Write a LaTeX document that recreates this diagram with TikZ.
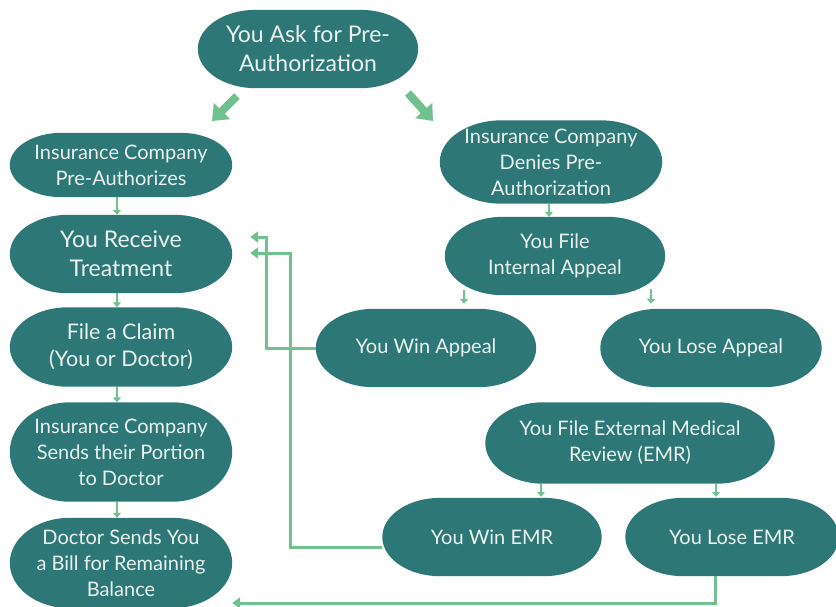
\documentclass[tikz,border=0pt]{standalone}
\usepackage{fontspec}
\setmainfont{Lato}
\usetikzlibrary{arrows.meta,calc,backgrounds}
\definecolor{tealBox}{HTML}{2D7877}
\definecolor{greenLine}{HTML}{6FC18F}
\definecolor{boxText}{HTML}{EAF2F0}

\begin{document}
\begin{tikzpicture}[
    x=1pt, y=-1pt,
    every node/.append style={font=\fontsize{20}{26}\selectfont},
    stage/.style={rectangle, text=boxText, minimum width=222pt, minimum height=78pt, inner sep=0pt, align=center,
        append after command={\pgfextra{\begin{pgfonlayer}{background}
            \fill[tealBox] let \p1=(\tikzlastnode.north), \p2=(\tikzlastnode.south), \n1={(\y1-\y2)/2} in
                ([xshift=#1]\tikzlastnode.north west) -- ([xshift=-#1]\tikzlastnode.north east)
                arc[start angle=90, end angle=-90, x radius=#1, y radius=\n1]
                -- ([xshift=#1]\tikzlastnode.south west)
                arc[start angle=270, end angle=90, x radius=#1, y radius=\n1] -- cycle;
        \end{pgfonlayer}}}},
    stage/.default=58pt,
    bigFont/.style={font=\fontsize{23}{29}\selectfont},
    bigArrow/.style={draw=greenLine, line width=8pt, -{Triangle[length=14pt,width=22pt]}},
    stepArrow/.style={draw=greenLine, line width=2pt, -{Triangle[length=5pt,width=8pt]}},
    backArrow/.style={draw=greenLine, line width=3pt, -{Triangle[length=8pt,width=11pt]}}
]
    \useasboundingbox (0,0) rectangle (836,606);

    % Anfrage
    \node[stage, bigFont, minimum width=220pt] (askPre) at (308,49) {You Ask for Pre-\\Authorization};

    % Linke Spalte
    \node[stage=52pt, minimum height=64pt] (insPre) at (121,165) {Insurance Company\\Pre-Authorizes};
    \node[stage, bigFont] (receive) at (121,254) {You Receive\\Treatment};
    \node[stage, minimum height=79pt, font=\fontsize{21.5}{27}\selectfont] (claim) at (121,347) {File a Claim\\(You or Doctor)};
    \node[stage=60pt, minimum height=99pt] (sends) at (121,452) {Insurance Company\\Sends their Portion\\to Doctor};
    \node[stage=60pt, minimum height=90pt] (bill) at (121,563) {Doctor Sends You\\a Bill for Remaining\\Balance};

    % Rechte Seite
    \node[stage=62pt, minimum height=83pt] (denies) at (551,162) {Insurance Company\\Denies Pre-\\Authorization};
    \node[stage, minimum width=220pt] (internal) at (555,256) {You File\\Internal Appeal};
    \node[stage, minimum width=220pt] (winAppeal) at (426,348) {You Win Appeal};
    \node[stage, minimum width=221pt] (loseAppeal) at (711,348) {You Lose Appeal};
    \node[stage, minimum width=289pt, minimum height=81pt] (emr) at (630,443) {You File External Medical\\Review (EMR)};
    \node[stage, minimum width=219pt] (winEmr) at (492,537) {You Win EMR};
    \node[stage, minimum width=213pt] (loseEmr) at (732,537) {You Lose EMR};

    % Grosse Pfeile
    \coordinate (leftFrom) at (237,96);
    \coordinate (leftTo) at (212,121);
    \coordinate (rightFrom) at (408,93);
    \coordinate (rightTo) at (433,121);
    \draw[bigArrow] (leftFrom) -- (leftTo);
    \draw[bigArrow] (rightFrom) -- (rightTo);

    % Schritte
    \draw[stepArrow] (insPre.south -| 117,0) -- (receive.north -| 117,0);
    \draw[stepArrow] (receive.south -| 117,0) -- (claim.north -| 117,0);
    \draw[stepArrow] (claim.south -| 117,0) -- (sends.north -| 117,0);
    \draw[stepArrow] (sends.south -| 117,0) -- (bill.north -| 117,0);
    \draw[stepArrow] (denies.south -| 549,0) -- (internal.north -| 549,0);
    \draw[stepArrow] ($(internal.south -| 464,0)+(0,-5)$) -- ($(winAppeal.north -| 464,0)+(0,-5)$);
    \draw[stepArrow] ($(internal.south -| 651,0)+(0,-6)$) -- ($(loseAppeal.north -| 651,0)+(0,-5)$);
    \draw[stepArrow] (emr.south -| 541,0) -- ($(winEmr.north -| 541,0)+(0,-1)$);
    \draw[stepArrow] (emr.south -| 716,0) -- ($(loseEmr.north -| 716,0)+(0,-1)$);

    % Rueckwege
    \draw[backArrow, shorten >=18pt] (winAppeal.west) -| (266,237) -- (receive.east |- 0,237);
    \draw[backArrow, shorten >=18pt] ($(winEmr.west)+(0,10)$) -| (290,253) -- (receive.east |- 0,253);
    \draw[backArrow] (loseEmr.south -| 715,0) |- (bill.east |- 0,603);

\end{tikzpicture}
\end{document}
